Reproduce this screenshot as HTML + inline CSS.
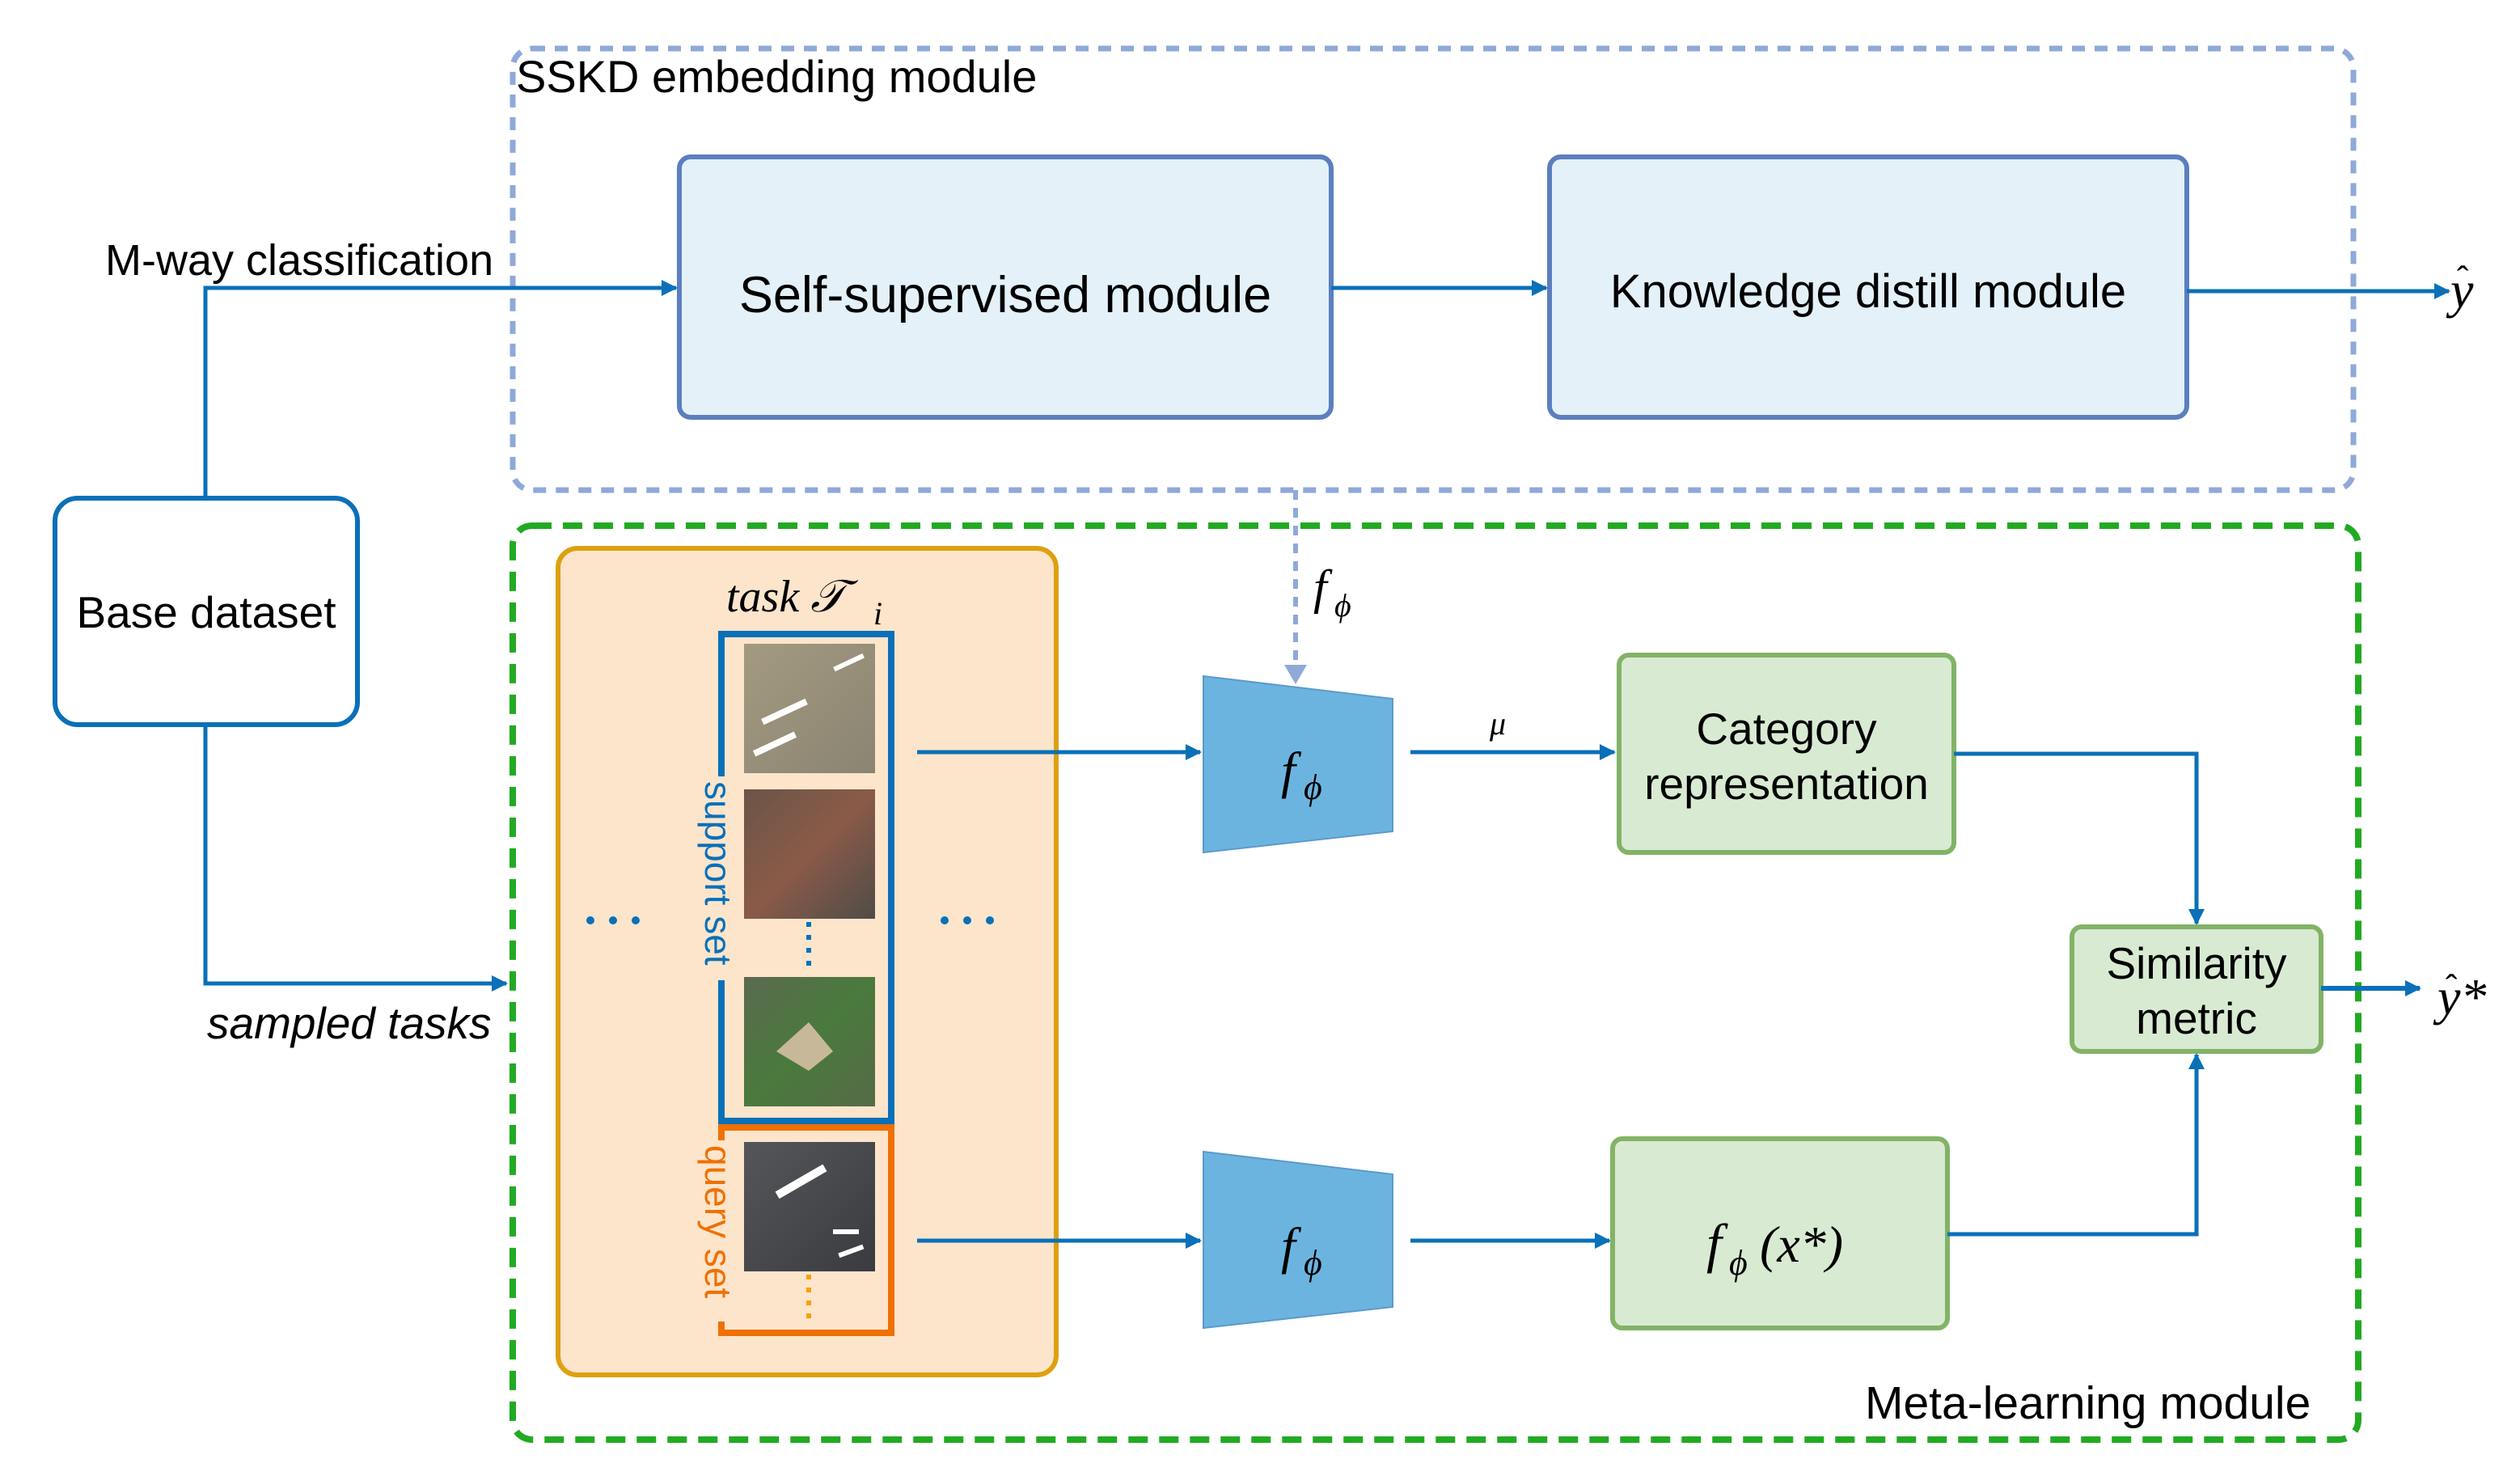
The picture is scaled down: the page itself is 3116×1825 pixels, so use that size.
<!DOCTYPE html>
<html><head><meta charset="utf-8"><style>
html,body{margin:0;padding:0;background:#fff;}
svg{display:block;}
text{font-family:"Liberation Sans",sans-serif;fill:#000;}
.s{font-family:"Liberation Serif",serif;font-style:italic;}
</style></head><body>
<svg width="3116" height="1825" viewBox="0 0 1558 912.5" xmlns="http://www.w3.org/2000/svg">
<defs>
<marker id="a" markerWidth="10" markerHeight="10" refX="9" refY="5" orient="auto" markerUnits="userSpaceOnUse"><path d="M0,0 L10,5 L0,10 Z" fill="#0a70b8"/></marker>
<marker id="b" markerWidth="12" markerHeight="14" refX="10" refY="7" orient="auto" markerUnits="userSpaceOnUse"><path d="M0,0 L12,7 L0,14 Z" fill="#8fa9d8"/></marker>
<linearGradient id="g1" x1="0" y1="0" x2="1" y2="1"><stop offset="0" stop-color="#a39a80"/><stop offset="1" stop-color="#8a8472"/></linearGradient>
<linearGradient id="g2" x1="0" y1="0" x2="1" y2="1"><stop offset="0" stop-color="#6b5548"/><stop offset="0.5" stop-color="#8a5a48"/><stop offset="1" stop-color="#504c48"/></linearGradient>
<linearGradient id="g3" x1="0" y1="0" x2="1" y2="1"><stop offset="0" stop-color="#5a6a50"/><stop offset="0.5" stop-color="#4a7a3c"/><stop offset="1" stop-color="#556a48"/></linearGradient>
<linearGradient id="g4" x1="0" y1="0" x2="1" y2="1"><stop offset="0" stop-color="#55565a"/><stop offset="1" stop-color="#3a3b40"/></linearGradient>
</defs>

<!-- SSKD box -->
<rect x="317" y="30" width="1138" height="273" rx="12" fill="none" stroke="#8fa9d8" stroke-width="3.5" stroke-dasharray="8,6"/>
<text x="319" y="57" font-size="28">SSKD embedding  module</text>
<rect x="420" y="97" width="403" height="161" rx="7" fill="#e4f1f8" stroke="#5b7fbf" stroke-width="3"/>
<text x="621.5" y="193" font-size="31.5" text-anchor="middle">Self-supervised module</text>
<rect x="958" y="97" width="394" height="161" rx="7" fill="#e4f1f8" stroke="#5b7fbf" stroke-width="3"/>
<text x="1155" y="190" font-size="29" text-anchor="middle">Knowledge distill  module</text>
<line x1="823" y1="178" x2="956" y2="178" stroke="#0a70b8" stroke-width="2.5" marker-end="url(#a)"/>
<line x1="1352" y1="180" x2="1514" y2="180" stroke="#0a70b8" stroke-width="2.5" marker-end="url(#a)"/>
<text x="1515" y="190" font-size="32" class="s">y</text><text x="1519" y="180" font-size="22">ˆ</text>

<!-- base dataset -->
<rect x="34" y="308" width="187" height="140" rx="14" fill="#fff" stroke="#0a70b8" stroke-width="3"/>
<text x="127.5" y="388" font-size="27.5" text-anchor="middle">Base dataset</text>
<polyline points="127,308 127,178 418,178" fill="none" stroke="#0a70b8" stroke-width="2.5" marker-end="url(#a)"/>
<text x="65" y="170" font-size="27">M-way classification</text>
<polyline points="127,448 127,608 313,608" fill="none" stroke="#0a70b8" stroke-width="2.5" marker-end="url(#a)"/>
<text x="128" y="642" font-size="27.5" font-style="italic">sampled tasks</text>

<!-- meta-learning box -->
<rect x="317" y="325" width="1141" height="565" rx="12" fill="none" stroke="#22aa22" stroke-width="4" stroke-dasharray="12,7"/>
<text x="1153" y="877" font-size="28.5">Meta-learning  module</text>

<!-- task box -->
<rect x="345" y="339" width="308" height="511" rx="12" fill="#fde5cc" stroke="#dea010" stroke-width="3"/>
<text x="449" y="378" font-size="28" class="s">task 𝒯</text><text x="540" y="386" font-size="20" class="s">i</text>
<rect x="446" y="392" width="105" height="301" fill="none" stroke="#0a70b8" stroke-width="4"/>
<rect x="446" y="697" width="105" height="127" fill="none" stroke="#f07000" stroke-width="4"/>
<rect x="436" y="480" width="20" height="126" fill="#fde5cc"/>
<rect x="436" y="705" width="20" height="112" fill="#fde5cc"/>
<text transform="translate(436,483) rotate(90)" font-size="23" style="fill:#0a70b8">support set</text>
<text transform="translate(436,708) rotate(90)" font-size="23" style="fill:#f07000">query set</text>
<rect x="460" y="398" width="81" height="80" fill="url(#g1)"/>
<g fill="#fff"><rect x="470" y="438" width="30" height="4" transform="rotate(-25 485 440)"/><rect x="465" y="458" width="28" height="4" transform="rotate(-25 479 460)"/><rect x="515" y="408" width="20" height="3" transform="rotate(-25 525 410)"/></g>
<rect x="460" y="488" width="81" height="80" fill="url(#g2)"/>
<rect x="460" y="604" width="81" height="80" fill="url(#g3)"/>
<path d="M480,650 L500,632 L515,650 L500,662 Z" fill="#c8b89a"/>
<rect x="460" y="706" width="81" height="80" fill="url(#g4)"/>
<g fill="#fff"><rect x="478" y="728" width="34" height="5" transform="rotate(-30 495 730)"/><rect x="515" y="760" width="16" height="3"/><rect x="518" y="772" width="16" height="3" transform="rotate(-20 526 773)"/></g>
<line x1="500" y1="570" x2="500" y2="602" stroke="#0a70b8" stroke-width="3" stroke-dasharray="3,5"/>
<line x1="500" y1="788" x2="500" y2="818" stroke="#f8a000" stroke-width="3" stroke-dasharray="3,5"/>
<g fill="#0a70b8"><circle cx="365" cy="569" r="2.5"/><circle cx="379" cy="569" r="2.5"/><circle cx="393" cy="569" r="2.5"/><circle cx="584" cy="569" r="2.5"/><circle cx="598" cy="569" r="2.5"/><circle cx="612" cy="569" r="2.5"/></g>

<!-- encoders -->
<line x1="567" y1="465" x2="742" y2="465" stroke="#0a70b8" stroke-width="2.5" marker-end="url(#a)"/>
<line x1="567" y1="767" x2="742" y2="767" stroke="#0a70b8" stroke-width="2.5" marker-end="url(#a)"/>
<polygon points="744,418 861,432 861,514 744,527" fill="#6cb4e0" stroke="#5a9acc" stroke-width="1"/>
<polygon points="744,712 861,726 861,808 744,821" fill="#6cb4e0" stroke="#5a9acc" stroke-width="1"/>
<text x="792" y="487" font-size="32" class="s">f</text><text x="806" y="494" font-size="22" class="s">ϕ</text>
<text x="792" y="781" font-size="32" class="s">f</text><text x="806" y="788" font-size="22" class="s">ϕ</text>
<line x1="801" y1="303" x2="801" y2="421" stroke="#8fa9d8" stroke-width="3" stroke-dasharray="6,5" marker-end="url(#b)"/>
<text x="812" y="373" font-size="30" class="s">f</text><text x="825" y="381" font-size="20" class="s">ϕ</text>
<line x1="872" y1="465" x2="998" y2="465" stroke="#0a70b8" stroke-width="2.5" marker-end="url(#a)"/>
<text x="921" y="454" font-size="20" class="s">μ</text>
<line x1="872" y1="767" x2="995" y2="767" stroke="#0a70b8" stroke-width="2.5" marker-end="url(#a)"/>

<!-- green boxes -->
<rect x="1001" y="405" width="207" height="122" rx="6" fill="#d9ead3" stroke="#82b366" stroke-width="3"/>
<text x="1104.5" y="460" font-size="27.5" text-anchor="middle">Category</text>
<text x="1104.5" y="494" font-size="27.5" text-anchor="middle">representation</text>
<rect x="1281" y="573" width="154" height="77" rx="6" fill="#d9ead3" stroke="#82b366" stroke-width="3"/>
<text x="1358" y="605" font-size="27.5" text-anchor="middle">Similarity</text>
<text x="1358" y="639" font-size="27.5" text-anchor="middle">metric</text>
<rect x="997" y="704" width="207" height="117" rx="6" fill="#d9ead3" stroke="#82b366" stroke-width="3"/>
<text x="1055" y="780" font-size="34" class="s">f</text><text x="1069" y="788" font-size="22" class="s">ϕ</text><text x="1088" y="780" font-size="32" class="s">(x*)</text>
<polyline points="1208,466 1358,466 1358,571" fill="none" stroke="#0a70b8" stroke-width="2.5" marker-end="url(#a)"/>
<polyline points="1204,763 1358,763 1358,652" fill="none" stroke="#0a70b8" stroke-width="2.5" marker-end="url(#a)"/>
<line x1="1435" y1="611" x2="1496" y2="611" stroke="#0a70b8" stroke-width="3" marker-end="url(#a)"/>
<text x="1507" y="627" font-size="32" class="s">y*</text><text x="1512" y="618" font-size="22">ˆ</text>
</svg>
</body></html>
